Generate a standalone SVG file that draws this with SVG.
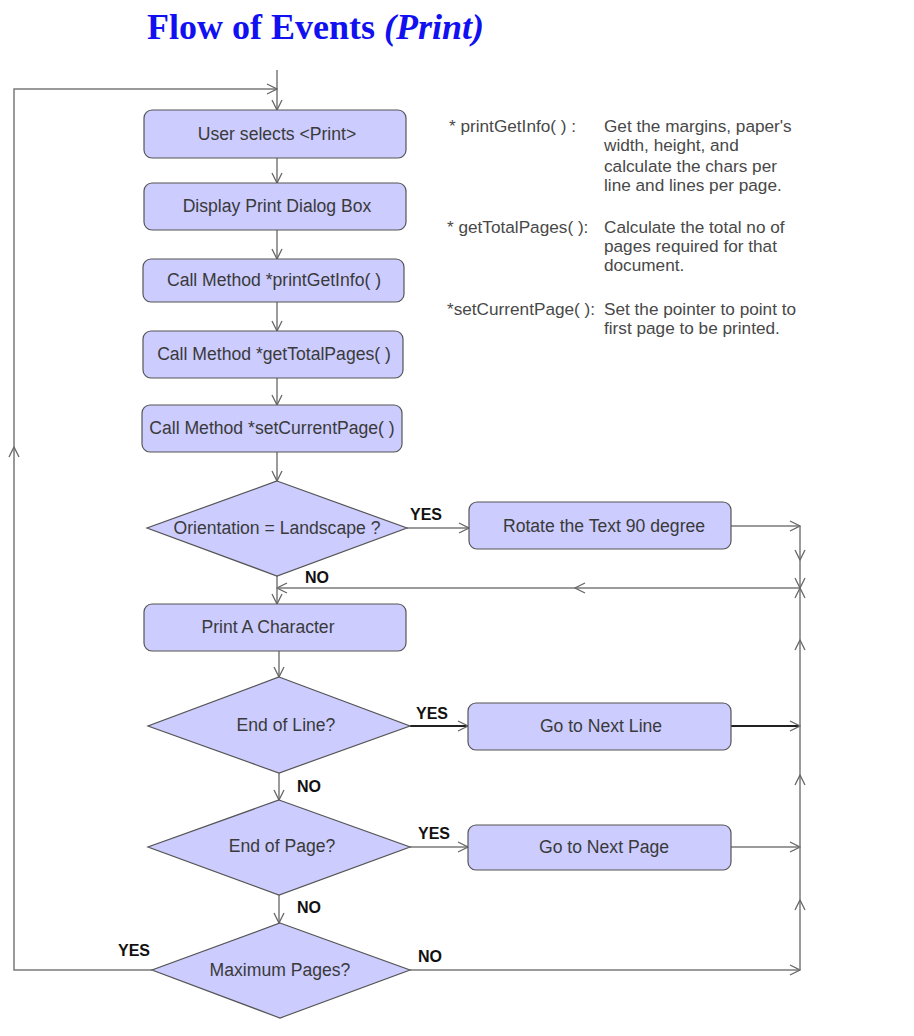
<svg xmlns="http://www.w3.org/2000/svg" width="914" height="1036" viewBox="0 0 914 1036">
  <style>
    .title { font-family: "Liberation Serif", "Times New Roman", serif; font-size: 36px; font-weight: bold; fill: #1010f0; }
    .box { fill: #ccccff; stroke: #555; stroke-width: 1.2; }
    .lbl { font-family: "Liberation Sans", Arial, sans-serif; font-size: 17.6px; fill: #3a3a3a; text-anchor: middle; }
    .note { font-family: "Liberation Sans", Arial, sans-serif; font-size: 17.2px; fill: #484848; }
    .yn { font-family: "Liberation Sans", Arial, sans-serif; font-size: 16px; font-weight: bold; fill: #111; }
    .wire { fill: none; stroke: #7a7a7a; stroke-width: 1.5; marker-end: url(#head); }
    .wire.dark { stroke: #222; stroke-width: 2; }
  </style>
  <defs>
    <marker id="head" viewBox="0 0 12 12" refX="11" refY="6" markerWidth="12" markerHeight="12" markerUnits="userSpaceOnUse" orient="auto">
      <path d="M1,1 L11,6 L1,11" fill="none" stroke="#666" stroke-width="1.3"/>
    </marker>
  </defs>

  <text class="title" x="147" y="39">Flow of Events <tspan font-style="italic">(Print)</tspan></text>

  <!-- connectors -->
  <g id="connectors">
    <path class="wire" d="M277,70 V110"/>
    <path class="wire" d="M152,970 H14 V447"/>
    <path class="wire" d="M14,447 V89 H277"/>
    <path class="wire" d="M277,158 V183"/>
    <path class="wire" d="M277,230 V259"/>
    <path class="wire" d="M277,302 V331"/>
    <path class="wire" d="M277,378 V405"/>
    <path class="wire" d="M277,452 V481"/>
    <path class="wire" d="M407,528 H469"/>
    <path class="wire" d="M731,526 H800"/>
    <path class="wire" d="M800,526 V560"/>
    <path class="wire" d="M800,560 V588"/>
    <path class="wire" d="M800,588 H575"/>
    <path class="wire" d="M575,588 H277"/>
    <path class="wire" d="M277,576 V604"/>
    <path class="wire" d="M279,651 V677"/>
    <path class="wire dark" d="M410,726 H468"/>
    <path class="wire dark" d="M731,726 H800"/>
    <path class="wire" d="M279,773 V800"/>
    <path class="wire" d="M410,847 H468"/>
    <path class="wire" d="M731,847 H800"/>
    <path class="wire" d="M279,895 V923"/>
    <path class="wire" d="M410,970 H800"/>
    <path class="wire" d="M800,970 V900"/>
    <path class="wire" d="M800,900 V775"/>
    <path class="wire" d="M800,775 V640"/>
    <path class="wire" d="M800,640 V588"/>

    <text class="yn" x="410" y="520">YES</text>
    <text class="yn" x="305" y="583">NO</text>
    <text class="yn" x="416" y="719">YES</text>
    <text class="yn" x="297" y="792">NO</text>
    <text class="yn" x="418" y="839">YES</text>
    <text class="yn" x="297" y="913">NO</text>
    <text class="yn" x="118" y="956">YES</text>
    <text class="yn" x="418" y="962">NO</text>
  </g>

  <!-- process steps -->
  <g id="user-selects">
    <rect class="box" x="144" y="110" width="262" height="48" rx="8"/>
    <text class="lbl" x="277" y="140">User selects &lt;Print&gt;</text>
  </g>
  <g id="display-dialog">
    <rect class="box" x="144" y="183" width="262" height="47" rx="8"/>
    <text class="lbl" x="277" y="212">Display Print Dialog Box</text>
  </g>
  <g id="call-printgetinfo">
    <rect class="box" x="143" y="259" width="261" height="43" rx="8"/>
    <text class="lbl" x="274" y="286">Call Method *printGetInfo( )</text>
  </g>
  <g id="call-gettotalpages">
    <rect class="box" x="143" y="331" width="260" height="47" rx="8"/>
    <text class="lbl" x="274" y="360">Call Method *getTotalPages( )</text>
  </g>
  <g id="call-setcurrentpage">
    <rect class="box" x="142" y="405" width="260" height="47" rx="8"/>
    <text class="lbl" x="272" y="434">Call Method *setCurrentPage( )</text>
  </g>
  <g id="orientation">
    <polygon class="box" points="277,481 407,528 277,576 147,528"/>
    <text class="lbl" x="277" y="534">Orientation = Landscape ?</text>
  </g>
  <g id="rotate-text">
    <rect class="box" x="469" y="502" width="262" height="47" rx="8"/>
    <text class="lbl" x="604" y="532">Rotate the Text 90 degree</text>
  </g>
  <g id="print-character">
    <rect class="box" x="144" y="604" width="262" height="47" rx="8"/>
    <text class="lbl" x="268" y="633">Print A Character</text>
  </g>
  <g id="end-of-line">
    <polygon class="box" points="279,677 410,726 279,773 148,726"/>
    <text class="lbl" x="286" y="731">End of Line?</text>
  </g>
  <g id="next-line">
    <rect class="box" x="468" y="703" width="263" height="47" rx="8"/>
    <text class="lbl" x="601" y="732">Go to Next Line</text>
  </g>
  <g id="end-of-page">
    <polygon class="box" points="279,800 410,847 279,895 148,847"/>
    <text class="lbl" x="282" y="852">End of Page?</text>
  </g>
  <g id="next-page">
    <rect class="box" x="468" y="825" width="263" height="45" rx="8"/>
    <text class="lbl" x="604" y="853">Go to Next Page</text>
  </g>
  <g id="maximum-pages">
    <polygon class="box" points="280,923 410,970 280,1018 152,970"/>
    <text class="lbl" x="280" y="976">Maximum Pages?</text>
  </g>

  <!-- method notes -->
  <g id="notes">
    <text class="note" x="449" y="132">* printGetInfo( ) :</text>
    <text class="note" x="604" y="132">Get the margins, paper's</text>
    <text class="note" x="604" y="151">width, height, and</text>
    <text class="note" x="604" y="172">calculate the chars per</text>
    <text class="note" x="604" y="191">line and lines per page.</text>
    <text class="note" x="447" y="233">* getTotalPages( ):</text>
    <text class="note" x="604" y="233">Calculate the total no of</text>
    <text class="note" x="604" y="252">pages required for that</text>
    <text class="note" x="604" y="271">document.</text>
    <text class="note" x="447" y="315">*setCurrentPage( ):</text>
    <text class="note" x="604" y="315">Set the pointer to point to</text>
    <text class="note" x="604" y="334">first page to be printed.</text>
  </g>
</svg>
